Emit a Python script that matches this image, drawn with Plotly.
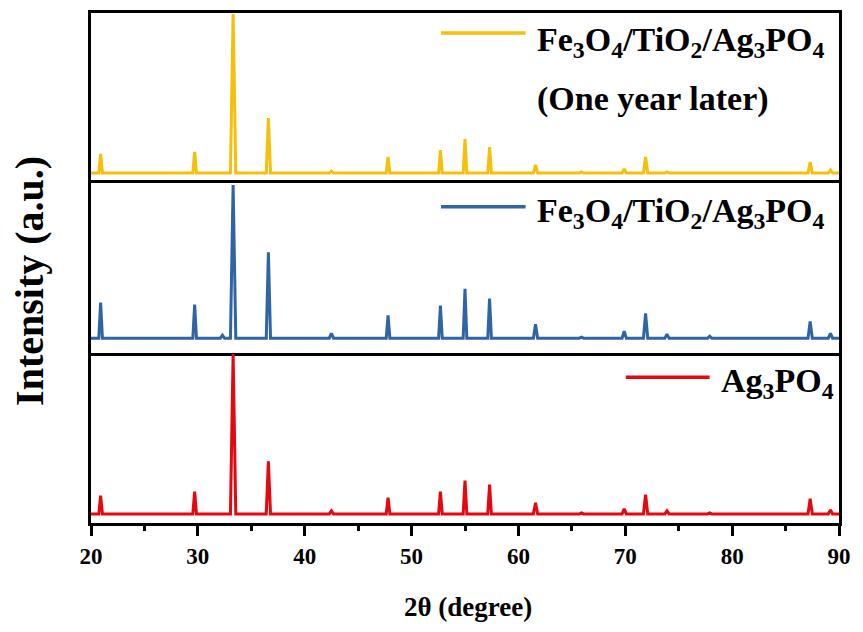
import plotly.graph_objects as go
from plotly.subplots import make_subplots

# ---- data ----
peak_pos = [20.9, 29.7, 32.3, 33.3, 36.6, 42.5, 47.8, 52.7, 55.0, 57.3, 61.6,
            65.9, 69.9, 71.9, 73.9, 77.9, 87.3, 89.2]
peak_halfwidth = [0.17, 0.17, 0.2, 0.25, 0.2, 0.2, 0.17, 0.17, 0.17, 0.17, 0.2,
                  0.2, 0.2, 0.2, 0.2, 0.2, 0.2, 0.2]
aged_heights = [19, 21, 0, 159, 55, 2, 16, 23, 34, 26, 8, 1, 4, 16, 1, 0, 11, 3]
composite_heights = [36, 34, 3, 155, 87, 5, 23, 33, 50, 40, 14, 1, 7, 25, 4, 2, 17, 5]
ag3po4_heights = [18, 22, 0, 158, 52, 3, 16, 22, 33, 29, 11, 1, 5, 19, 3, 1, 15, 4]

x_range = [20, 90]
x_ticks = [20, 30, 40, 50, 60, 70, 80, 90]
x_tick_labels = ["20", "30", "40", "50", "60", "70", "80", "90"]

series_names = ["Fe<sub>3</sub>O<sub>4</sub>/TiO<sub>2</sub>/Ag<sub>3</sub>PO<sub>4</sub>",
                "Fe<sub>3</sub>O<sub>4</sub>/TiO<sub>2</sub>/Ag<sub>3</sub>PO<sub>4</sub>",
                "Ag<sub>3</sub>PO<sub>4</sub>"]
colors = ["#F5BF0A", "#2F65A5", "#E8060F"]
y_ranges = [[-10, 160], [-15, 157], [-9, 159]]


def pattern(heights):
    xs, ys = [x_range[0]], [0]
    for p, w, h in zip(peak_pos, peak_halfwidth, heights):
        xs += [p - w, p, p + w]
        ys += [0, h, 0]
    xs.append(x_range[1])
    ys.append(0)
    return xs, ys


FONT = "Liberation Serif"

fig = make_subplots(rows=3, cols=1, shared_xaxes=True, vertical_spacing=0)

all_heights = [aged_heights, composite_heights, ag3po4_heights]
for i, (hts, col, nm) in enumerate(zip(all_heights, colors, series_names)):
    xs, ys = pattern(hts)
    fig.add_trace(go.Scatter(x=xs, y=ys, mode="lines", name=nm,
                             line=dict(color=col, width=3), showlegend=False),
                  row=i + 1, col=1)

for i in range(3):
    fig.update_yaxes(row=i + 1, col=1, range=y_ranges[i], showticklabels=False,
                     ticks="", showgrid=False, zeroline=False, showline=True,
                     linecolor="black", linewidth=3, mirror=True)

# top panel: only top frame line; middle: top+bottom; bottom: bottom with ticks
fig.update_xaxes(row=1, col=1, range=x_range, showgrid=False, zeroline=False,
                 showline=True, linecolor="black", linewidth=3, side="top",
                 mirror=False, showticklabels=False, ticks="")
fig.update_xaxes(row=2, col=1, range=x_range, showgrid=False, zeroline=False,
                 showline=True, linecolor="black", linewidth=3, mirror=True,
                 showticklabels=False, ticks="")
fig.update_xaxes(row=3, col=1, range=x_range, showgrid=False, zeroline=False,
                 showline=True, linecolor="black", linewidth=3, mirror=False,
                 showticklabels=True, ticks="outside",
                 tickvals=x_ticks, ticktext=["<b>%s</b>" % t for t in x_tick_labels],
                 ticklen=10, tickwidth=2.5, tickcolor="black",
                 tickfont=dict(family=FONT, size=23, color="black"),
                 minor=dict(ticks="outside", ticklen=5, tickwidth=2.5,
                            tickcolor="black", dtick=5, showgrid=False))

# legend-like labels
leg_font = dict(family=FONT, size=34, color="black")
legend_items = [
    ("x", "y", 0.468, 0.581, 0.882, 0.593, 0.830, series_names[0], colors[0]),
    ("x2", "y2", 0.468, 0.581, 0.860, 0.593, 0.822, series_names[1], colors[1]),
    ("x3", "y3", 0.715, 0.827, 0.857, 0.840, 0.825, series_names[2], colors[2]),
]
for xr, yr, x0, x1, yl, xt, yt, txt, col in legend_items:
    fig.add_shape(type="line", xref=f"{xr} domain", yref=f"{yr} domain",
                  x0=x0, x1=x1, y0=yl, y1=yl, line=dict(color=col, width=3.5))
    fig.add_annotation(xref=f"{xr} domain", yref=f"{yr} domain", x=xt, y=yt,
                       text="<b>%s</b>" % txt, showarrow=False, xanchor="left",
                       yanchor="middle", font=leg_font)
fig.add_annotation(xref="x domain", yref="y domain", x=0.593, y=0.494,
                   text="<b>(One year later)</b>", showarrow=False, xanchor="left",
                   yanchor="middle", font=leg_font)

# axis titles
fig.add_annotation(xref="paper", yref="paper", x=-0.083, y=0.4745,
                   text="<b>Intensity (a.u.)</b>", textangle=-90, showarrow=False,
                   xanchor="center", yanchor="middle",
                   font=dict(family=FONT, size=40, color="black"))
fig.add_annotation(xref="paper", yref="paper", x=0.504, y=-0.165,
                   text="<b>2θ (degree)</b>", showarrow=False,
                   xanchor="center", yanchor="middle",
                   font=dict(family=FONT, size=27, color="black"))

fig.update_layout(width=863, height=632, margin=dict(l=91, r=20, t=13, b=109),
                  font=dict(family=FONT, color="black"),
                  paper_bgcolor="white", plot_bgcolor="white", showlegend=False)

fig.write_html("out.html")
